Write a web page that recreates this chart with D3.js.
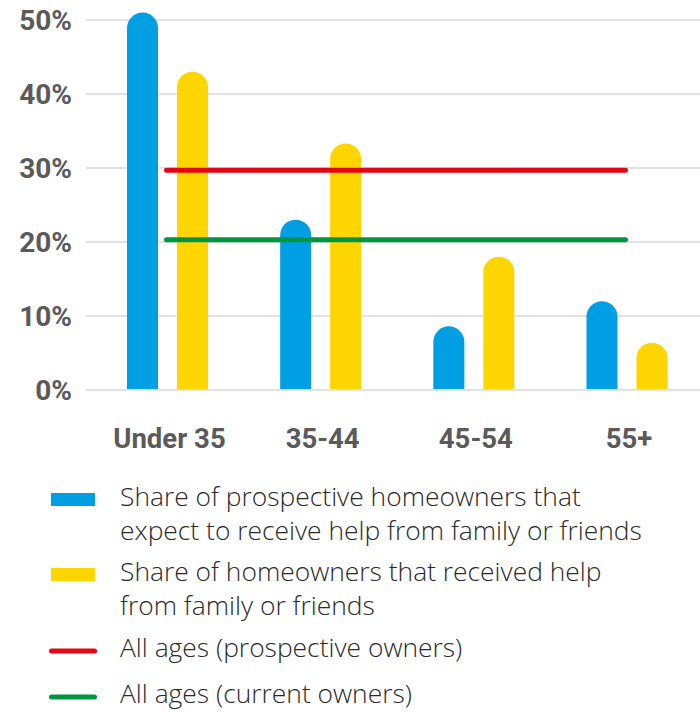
<!DOCTYPE html>
<html>
<head>
<meta charset="utf-8">
<script src="https://cdn.jsdelivr.net/npm/d3@7"></script>
<style>
  html, body { margin: 0; padding: 0; background: #fff; }
  svg { display: block; }
</style>
</head>
<body>
<svg id="chart" width="700" height="713"></svg>
<script>
// ---- Data ----
const categories = ["Under 35", "35-44", "45-54", "55+"];
const seriesNames = ["prospective", "current"];
const prospectiveValues = [51, 23, 8.6, 12];
const currentValues = [43, 33.3, 18, 6.4];
const allAgesProspective = 29.7;
const allAgesCurrent = 20.3;
const yTicks = [0, 10, 20, 30, 40, 50];
const legendItems = [
  { type: "rect", color: "#009FE3", lines: ["Share of prospective homeowners that", "expect to receive help from family or friends"] },
  { type: "rect", color: "#FFD500", lines: ["Share of homeowners that received help", "from family or friends"] },
  { type: "line", color: "#E30613", lines: ["All ages (prospective owners)"] },
  { type: "line", color: "#00963F", lines: ["All ages (current owners)"] }
];
const colors = { prospective: "#009FE3", current: "#FFD500" };

// ---- Scales ----
const svg = d3.select("#chart");
const y = d3.scaleLinear().domain([0, 50]).range([390, 20]);
const x = d3.scalePoint().domain(categories).range([167.5, 627]);
const xs = d3.scaleBand().domain(seriesNames).range([-40.5, 40.5]).paddingInner(0.38);
const bw = xs.bandwidth();

// ---- Gridlines ----
svg.append("g").selectAll("line").data(yTicks).join("line")
  .attr("x1", 86).attr("x2", 700)
  .attr("y1", d => y(d)).attr("y2", d => y(d))
  .attr("stroke", "#e2e2e2").attr("stroke-width", 2);

// ---- Y axis labels ----
svg.append("g").selectAll("text").data(yTicks).join("text")
  .attr("x", 72).attr("y", d => y(d)).attr("dy", "0.36em")
  .attr("text-anchor", "end")
  .attr("font-family", "Roboto, 'Liberation Sans', sans-serif")
  .attr("font-weight", 700).attr("font-size", 28)
  .attr("fill", "#5a5a5a")
  .text(d => d + "%");

// ---- Bars (rounded tops) ----
function barPath(x0, w, yTop, yBase) {
  const r = w / 2;
  const h = yBase - yTop;
  const rr = Math.min(r, h);
  return `M${x0},${yBase} L${x0},${yTop + rr} A${r},${rr} 0 0 1 ${x0 + w},${yTop + rr} L${x0 + w},${yBase} Z`;
}
const barData = [];
categories.forEach((c, i) => {
  barData.push({ cat: c, s: "prospective", v: prospectiveValues[i] });
  barData.push({ cat: c, s: "current", v: currentValues[i] });
});
svg.append("g").selectAll("path").data(barData).join("path")
  .attr("d", d => barPath(x(d.cat) + xs(d.s), bw, y(d.v), y(0) - 1))
  .attr("fill", d => colors[d.s]);

// ---- Reference lines ----
const refLines = [
  { v: allAgesProspective, color: "#E30613" },
  { v: allAgesCurrent, color: "#00963F" }
];
svg.append("g").selectAll("line").data(refLines).join("line")
  .attr("x1", x(categories[0]) - 1).attr("x2", x(categories[categories.length - 1]) - 1.5)
  .attr("y1", d => y(d.v)).attr("y2", d => y(d.v))
  .attr("stroke", d => d.color).attr("stroke-width", 5)
  .attr("stroke-linecap", "round");

// ---- X axis labels ----
svg.append("g").selectAll("text").data(categories).join("text")
  .attr("x", d => x(d) + 2).attr("y", 448)
  .attr("text-anchor", "middle")
  .attr("font-family", "Roboto, 'Liberation Sans', sans-serif")
  .attr("font-weight", 700).attr("font-size", 27.5)
  .attr("fill", "#5a5a5a")
  .text(d => d);

// ---- Legend ----
const legendY = [493, 568, 651, 697];
const legend = svg.append("g");
legendItems.forEach((item, i) => {
  const g = legend.append("g");
  if (item.type === "rect") {
    g.append("rect").attr("x", 51).attr("y", legendY[i]).attr("width", 44).attr("height", 13)
      .attr("fill", item.color);
  } else {
    g.append("line").attr("x1", 51.5).attr("x2", 94.5)
      .attr("y1", legendY[i]).attr("y2", legendY[i])
      .attr("stroke", item.color).attr("stroke-width", 5).attr("stroke-linecap", "round");
  }
  const baseY = item.type === "rect" ? legendY[i] + 13 : legendY[i] + 6;
  item.lines.forEach((ln, j) => {
    g.append("text").attr("x", 120).attr("y", baseY + j * 33.5)
      .attr("font-family", "'Open Sans', 'Liberation Sans', sans-serif")
      .attr("font-weight", 300).attr("font-size", 26.4)
      .attr("fill", "#2a2a2a")
      .text(ln);
  });
});
</script>
</body>
</html>
